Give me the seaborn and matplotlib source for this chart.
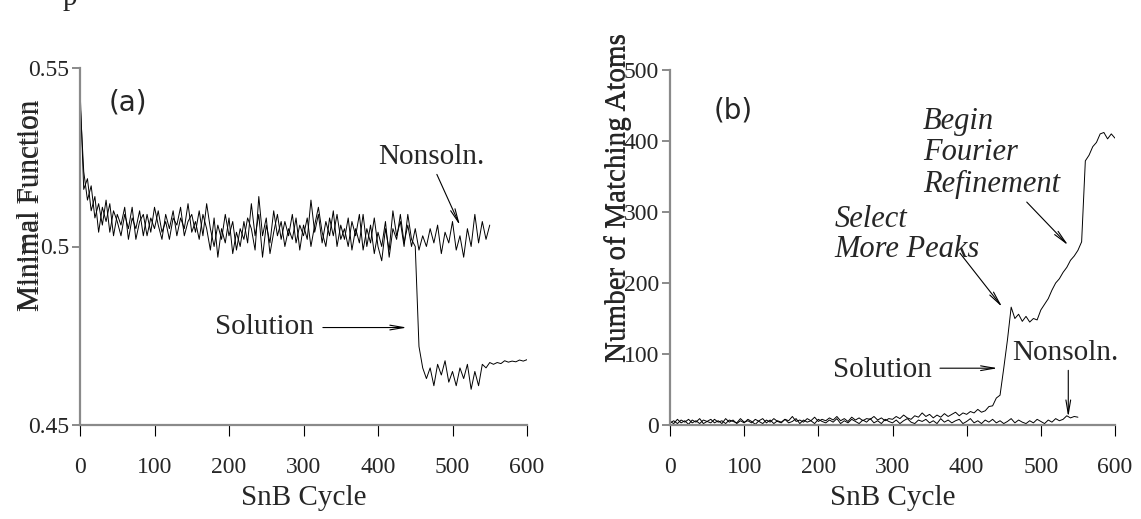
import matplotlib
matplotlib.use('Agg')
import matplotlib.pyplot as plt
import seaborn as sns
import numpy as np

# --- data ---
cycles_a_non = np.arange(0, 555, 5)
minfn_nonsoln = [
    0.5445, 0.516, 0.519, 0.510, 0.514, 0.504, 0.511, 0.507, 0.512, 0.503,
    0.509, 0.506, 0.511, 0.502, 0.508, 0.505, 0.510, 0.503, 0.509, 0.504,
    0.511, 0.506, 0.502, 0.509, 0.505, 0.510, 0.503, 0.508, 0.505, 0.512,
    0.504, 0.507, 0.502, 0.509, 0.505, 0.499, 0.508, 0.497, 0.505, 0.501,
    0.508, 0.498, 0.504, 0.500, 0.507, 0.501, 0.512, 0.503, 0.509, 0.497,
    0.506, 0.501, 0.510, 0.503, 0.507, 0.500, 0.505, 0.502, 0.508, 0.499,
    0.506, 0.502, 0.513, 0.504, 0.509, 0.501, 0.507, 0.503, 0.510, 0.500,
    0.506, 0.502, 0.508, 0.499, 0.505, 0.501, 0.509, 0.500, 0.506, 0.498,
    0.504, 0.500, 0.507, 0.497, 0.505, 0.502, 0.509, 0.501, 0.506, 0.500,
    0.505, 0.499, 0.503, 0.500, 0.505, 0.501, 0.506, 0.498, 0.504, 0.501,
    0.507, 0.499, 0.503, 0.497, 0.505, 0.500, 0.509, 0.501, 0.507, 0.502,
    0.506]

cycles_a_sol = np.arange(0, 605, 5)
minfn_soln = [
    0.541, 0.521, 0.513, 0.517, 0.508, 0.512, 0.506, 0.513, 0.504, 0.510,
    0.507, 0.503, 0.509, 0.505, 0.511, 0.502, 0.507, 0.509, 0.503, 0.508,
    0.505, 0.510, 0.504, 0.507, 0.502, 0.508, 0.506, 0.511, 0.503, 0.507,
    0.509, 0.504, 0.510, 0.503, 0.512, 0.505, 0.500, 0.506, 0.502, 0.509,
    0.503, 0.507, 0.499, 0.505, 0.502, 0.508, 0.505, 0.499, 0.514, 0.503,
    0.508, 0.498, 0.504, 0.509, 0.502, 0.507, 0.503, 0.509, 0.501, 0.506,
    0.503, 0.508, 0.500, 0.506, 0.511, 0.504, 0.500, 0.508, 0.503, 0.509,
    0.502, 0.505, 0.500, 0.507, 0.503, 0.509, 0.499, 0.505, 0.501, 0.508,
    0.500, 0.496, 0.505, 0.499, 0.510, 0.503, 0.507, 0.500, 0.509, 0.502,
    0.500, 0.472, 0.466, 0.463, 0.466, 0.461, 0.467, 0.464, 0.468, 0.462,
    0.465, 0.461, 0.466, 0.463, 0.467, 0.460, 0.465, 0.461, 0.467, 0.466,
    0.4675, 0.467, 0.4675, 0.4672, 0.468, 0.4676, 0.4679, 0.4677, 0.4682, 0.4679,
    0.4683]

cycles_b_sol = np.arange(0, 605, 5)
atoms_soln = [
    3, 6, 2, 7, 4, 8, 3, 6, 2, 7,
    5, 3, 8, 4, 6, 2, 7, 5, 3, 9,
    4, 6, 3, 8, 5, 2, 7, 4, 9, 5,
    3, 8, 6, 12, 5, 7, 4, 9, 6, 11,
    5, 8, 6, 10, 7, 12, 6, 9, 5, 11,
    7, 10, 6, 9, 8, 12, 7, 10, 6, 9,
    8, 12, 9, 14, 10, 8, 13, 11, 17, 12,
    15, 10, 14, 11, 16, 12, 15, 18, 13, 17,
    15, 19, 17, 22, 18, 20, 26, 27, 38, 42,
    80, 120, 166, 150, 156, 146, 153, 145, 150, 148,
    162, 170, 178, 190, 200, 206, 215, 222, 232, 238,
    246, 258, 372, 380, 392, 398, 410, 412, 403, 410,
    404]

cycles_b_non = np.arange(0, 555, 5)
atoms_nonsoln = [
    5, 2, 8, 3, 6, 1, 7, 4, 9, 2,
    5, 8, 3, 6, 2, 9, 4, 7, 2, 6,
    3, 8, 5, 1, 6, 9, 3, 7, 2, 6,
    4, 8, 3, 5, 9, 2, 7, 4, 6, 2,
    8, 5, 3, 7, 4, 9, 2, 6, 3, 8,
    5, 2, 7, 4, 9, 3, 6, 2, 8, 5,
    3, 7, 2, 6, 9, 4, 2, 7, 5, 8,
    3, 6, 2, 9, 4, 7, 3, 6, 8, 2,
    5, 9, 3, 6, 2, 7, 4, 8, 3, 6,
    2, 5, 9, 3, 7, 4, 2, 6, 3, 8,
    5, 2, 7, 4, 9, 6, 8, 13, 10, 12,
    11]

xticks = [0, 100, 200, 300, 400, 500, 600]
yticks_a = [0.45, 0.5, 0.55]
yticklabels_a = ['0.45', '0.5', '0.55']
yticks_b = [0, 100, 200, 300, 400, 500]

sns.set_style('ticks')
plt.rcParams['font.family'] = ['Liberation Serif', 'DejaVu Serif']

fig = plt.figure(figsize=(11.41, 5.19), dpi=100)
W, H = 1141, 519
ax1 = fig.add_axes([80 / W, 1 - 425 / H, 447 / W, 357 / H])
ax2 = fig.add_axes([670 / W, 1 - 425 / H, 445 / W, 355 / H])

grey = '#8a8a8a'
arrow = dict(arrowstyle='->,head_length=1.0,head_width=0.17', color='k',
             lw=0.8, shrinkA=0, shrinkB=0)

for ax in (ax1, ax2):
    sns.despine(ax=ax)
    for s in ('left', 'bottom'):
        ax.spines[s].set_color(grey)
        ax.spines[s].set_linewidth(1.6)
    ax.set_xlim(0, 600)
    ax.set_xticks(xticks)
    ax.tick_params(axis='x', direction='out', length=8, width=0.8,
                   color='k', pad=15, labelsize=17)
    ax.tick_params(axis='y', direction='out', length=6, width=1.4,
                   color=grey, pad=2, labelsize=17)
    ax.set_xlabel('SnB Cycle', fontsize=21, labelpad=5)
    ax.patch.set_alpha(0)

# (a) minimal function
sns.lineplot(x=cycles_a_non, y=minfn_nonsoln, ax=ax1, color='k', lw=0.7)
sns.lineplot(x=cycles_a_sol, y=minfn_soln, ax=ax1, color='k', lw=0.7)
ax1.set_ylim(0.45, 0.55)
ax1.set_yticks(yticks_a)
ax1.set_yticklabels(yticklabels_a)
ax1.set_ylabel('')
for dx in (0, 0.004):
    ax1.text(-0.112 + dx, 0.616, 'Minimal Function', transform=ax1.transAxes,
             rotation=90, ha='center', va='center', fontsize=21)
ax1.text(0.063, 0.902, '(a)', transform=ax1.transAxes, family='DejaVu Sans',
         fontsize=20, va='center')
ax1.text(400, 0.523, 'Nonsoln.', fontsize=21)
ax1.annotate('', xy=(510, 0.5059), xytext=(479, 0.5202), arrowprops=arrow)
ax1.text(181, 0.4754, 'Solution', fontsize=21)
ax1.annotate('', xy=(439, 0.4773), xytext=(326, 0.4773), arrowprops=arrow)

# (b) number of matching atoms
sns.lineplot(x=cycles_b_sol, y=atoms_soln, ax=ax2, color='k', lw=0.7)
sns.lineplot(x=cycles_b_non, y=atoms_nonsoln, ax=ax2, color='k', lw=0.7)
ax2.set_ylim(0, 500)
ax2.set_yticks(yticks_b)
ax2.set_ylabel('')
for dx in (0, 0.004):
    ax2.text(-0.119 + dx, 0.642, 'Number of Matching Atoms',
             transform=ax2.transAxes, rotation=90, ha='center', va='center',
             fontsize=21)
ax2.text(0.097, 0.887, '(b)', transform=ax2.transAxes, family='DejaVu Sans',
         fontsize=20, va='center')
for line, yy in zip(['Begin', 'Fourier', 'Refinement'], [417, 373, 328]):
    ax2.text(341, yy, line, fontsize=22, style='italic')
ax2.annotate('', xy=(537, 253), xytext=(481, 314), arrowprops=arrow)
for line, yy in zip(['Select', 'More Peaks'], [279, 237]):
    ax2.text(222, yy, line, fontsize=22, style='italic')
ax2.annotate('', xy=(448, 166), xytext=(391, 242), arrowprops=arrow)
ax2.text(220, 68, 'Solution', fontsize=21)
ax2.annotate('', xy=(442, 80), xytext=(364, 80), arrowprops=arrow)
ax2.text(461, 91.5, 'Nonsoln.', fontsize=21)
ax2.annotate('', xy=(537, 11), xytext=(537, 77), arrowprops=arrow)

fig.text(63 / W, 1 - 5 / H, 'p', fontsize=21)

fig.savefig('out.png', dpi=100)
